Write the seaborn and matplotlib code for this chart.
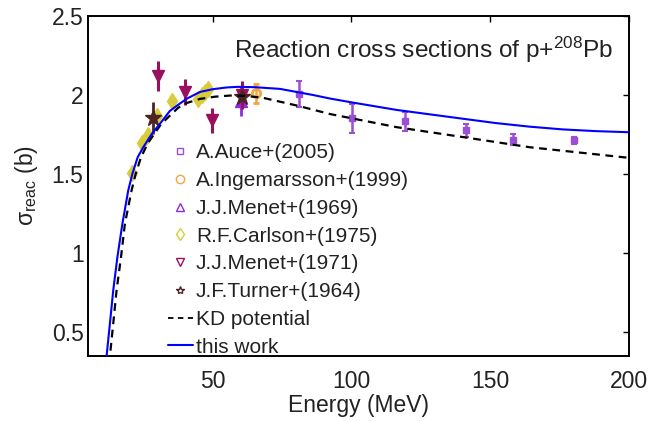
import numpy as np
import pandas as pd
import matplotlib
matplotlib.use("Agg")
import matplotlib.pyplot as plt
import seaborn as sns
from matplotlib.lines import Line2D

# ---------------- data ----------------
auce_E = [81.1, 100.1, 119.3, 141.2, 158.1, 180.3]
auce_s = [2.007, 1.853, 1.835, 1.776, 1.717, 1.713]
auce_err = [0.08, 0.09, 0.06, 0.04, 0.035, 0.025]

inge_E = [65.6]
inge_s = [2.01]
inge_err = [0.06]

menet69_E = [60.1]
menet69_s = [1.96]
menet69_err = [0.095]

carl_E = [20.8, 24.4, 26.8, 29.9, 35.3, 44.8, 46.0, 47.3, 48.5]
carl_s = [1.51, 1.70, 1.75, 1.87, 1.965, 1.975, 2.00, 2.02, 2.04]
carl_err = [0.04, 0.04, 0.04, 0.04, 0.03, 0.03, 0.03, 0.03, 0.03]

menet71_E = [30.2, 40.0, 49.7, 60.7]
menet71_s = [2.12, 2.02, 1.84, 2.00]
menet71_err = [0.095, 0.08, 0.08, 0.09]

turner_E = [28.4, 60.5]
turner_s = [1.856, 1.99]
turner_err = [0.10, 0.03]

kd_E = [12.6, 13.0, 14.2, 15.4, 17.0, 18.4, 20.8, 22.3, 24.2, 26.8, 31.5, 37.6, 40.7,
        45.5, 51.0, 56.3, 62.0, 68.3, 80.3, 92.3, 116.3, 140.3, 164.3, 200.0]
kd_s = [0.30, 0.35, 0.556, 0.766, 0.976, 1.187, 1.397, 1.503, 1.607, 1.70, 1.818, 1.92, 1.95,
        1.976, 1.99, 1.997, 1.995, 1.982, 1.934, 1.88, 1.797, 1.734, 1.67, 1.603]

tw_E = [11.3, 11.8, 13.0, 14.2, 15.7, 17.5, 19.6, 21.1, 23.0, 25.0, 28.1, 31.0, 34.6,
        38.5, 41.0, 45.5, 50.0, 55.0, 59.0, 65.0, 74.3, 86.3, 92.3, 100.0, 116.3,
        140.3, 152.0, 164.3, 176.0, 188.0, 200.0]
tw_s = [0.32, 0.35, 0.556, 0.766, 0.976, 1.187, 1.397, 1.503, 1.607, 1.67, 1.755, 1.818, 1.90,
        1.95, 1.98, 2.02, 2.037, 2.048, 2.052, 2.05, 2.039, 2.0, 1.978, 1.954, 1.906,
        1.85, 1.823, 1.80, 1.783, 1.772, 1.765]

x_ticks = [50, 100, 150, 200]
y_ticks = [0.5, 1.0, 1.5, 2.0, 2.5]
y_ticklabels = ["0.5", "1", "1.5", "2", "2.5"]

# ---------------- style ----------------
sns.set_style("white")
plt.rcParams["font.family"] = ["Liberation Sans", "DejaVu Sans"]
plt.rcParams["mathtext.fontset"] = "custom"
plt.rcParams["mathtext.rm"] = "Liberation Sans"
plt.rcParams["mathtext.it"] = "Liberation Sans:italic"
plt.rcParams["mathtext.bf"] = "Liberation Sans:bold"
TXT = "#222222"

c_auce = "#9b4fd4"
c_inge = "#f5a442"
c_m69 = "#8a2be2"
c_carl = "#d8cc3c"
c_m71 = "#99105f"
c_turn = "#4d2326"

fig = plt.figure(figsize=(6.66, 4.21), dpi=100)
ax = fig.add_axes([0.1317, 0.1544, 0.8128, 0.8076])

kd_df = pd.DataFrame({"E": kd_E, "s": kd_s})
tw_df = pd.DataFrame({"E": tw_E, "s": tw_s})

# data points
ax.errorbar(carl_E, carl_s, yerr=carl_err, fmt="d", color=c_carl, ms=8,
            elinewidth=1.5, capsize=0, zorder=3)
ax.errorbar(auce_E, auce_s, yerr=auce_err, fmt="s", color=c_auce, ms=5,
            elinewidth=1.8, capsize=2.5, capthick=1.5, zorder=3)
ax.errorbar(inge_E, inge_s, yerr=inge_err, fmt="o", color=c_inge, ms=6,
            mfc="none", mew=2, elinewidth=1.8, capsize=2.5, capthick=1.5, zorder=3)
ax.errorbar(menet69_E, menet69_s, yerr=menet69_err, fmt="^", color=c_m69, ms=8,
            elinewidth=2, capsize=0, zorder=3)
ax.errorbar(menet71_E, menet71_s, yerr=menet71_err, fmt="v", color=c_m71, ms=9,
            elinewidth=2.2, capsize=0, zorder=4)
ax.errorbar(turner_E, turner_s, yerr=turner_err, fmt="*", color=c_turn, ms=12,
            elinewidth=2, capsize=0, zorder=4)

# curves
sns.lineplot(data=kd_df, x="E", y="s", ax=ax, color="black", lw=1.6,
             linestyle=(0, (3.5, 2.5)), sort=False, estimator=None, zorder=5)
sns.lineplot(data=tw_df, x="E", y="s", ax=ax, color="#0000ff", lw=1.5,
             sort=False, estimator=None, zorder=6)

ax.set_xlim(5, 200)
ax.set_ylim(0.35, 2.5)
ax.set_xticks(x_ticks)
ax.set_xticklabels([str(t) for t in x_ticks])
ax.set_yticks(y_ticks)
ax.set_yticklabels(y_ticklabels)

for sp in ax.spines.values():
    sp.set_visible(True)
    sp.set_color("black")
    sp.set_linewidth(1.4)

ax.tick_params(axis="both", direction="in", length=4, width=1.0, color="black",
               top=True, right=True, labelsize=16.5, labelcolor=TXT)
ax.tick_params(axis="x", pad=10)
ax.tick_params(axis="y", pad=3)

ax.set_xlabel("Energy (MeV)", fontsize=16.5, color=TXT, labelpad=1)
ax.set_ylabel("σ$_{\\rm reac}$ (b)", fontsize=16.5, color=TXT)
ax.yaxis.set_label_coords(-0.088, 0.5)

ax.text(0.970, 0.878, "Reaction cross sections of p+$^{208}$Pb", transform=ax.transAxes,
        ha="right", va="baseline", fontsize=17.6, color=TXT)

handles = [
    Line2D([], [], ls="none", marker="s", ms=5, mfc="none", mec=c_auce, mew=1),
    Line2D([], [], ls="none", marker="o", ms=6, mfc="none", mec=c_inge, mew=1),
    Line2D([], [], ls="none", marker="^", ms=6, mfc="none", mec=c_m69, mew=1),
    Line2D([], [], ls="none", marker="d", ms=6, mfc="none", mec=c_carl, mew=1),
    Line2D([], [], ls="none", marker="v", ms=6, mfc="none", mec=c_m71, mew=1),
    Line2D([], [], ls="none", marker="*", ms=6, mfc="none", mec=c_turn, mew=1),
    Line2D([], [], color="black", lw=1.3, ls=(0, (3, 2.5))),
    Line2D([], [], color="#0000ff", lw=1.5),
]
labels = ["A.Auce+(2005)", "A.Ingemarsson+(1999)", "J.J.Menet+(1969)",
          "R.F.Carlson+(1975)", "J.J.Menet+(1971)", "J.F.Turner+(1964)",
          "KD potential", "this work"]
leg = ax.legend(handles, labels, loc="upper left", bbox_to_anchor=(0.148, 0.625),
                frameon=False, fontsize=15, handlelength=1.2, handletextpad=0.15,
                labelspacing=0.42, borderpad=0, borderaxespad=0)
for t in leg.get_texts():
    t.set_color(TXT)

fig.savefig("out.png", dpi=100)
